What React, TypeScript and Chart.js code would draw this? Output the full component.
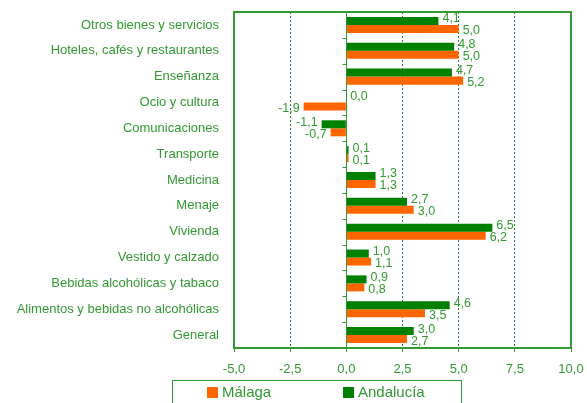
import React, { useEffect, useRef } from "react";
import { Chart, registerables } from "chart.js";
Chart.register(...registerables);

const categories = [
  "Otros bienes y servicios",
  "Hoteles, cafés y restaurantes",
  "Enseñanza",
  "Ocio y cultura",
  "Comunicaciones",
  "Transporte",
  "Medicina",
  "Menaje",
  "Vivienda",
  "Vestido y calzado",
  "Bebidas alcohólicas y tabaco",
  "Alimentos y bebidas no alcohólicas",
  "General",
];
const andalucia = [4.1, 4.8, 4.7, 0.0, -1.1, 0.1, 1.3, 2.7, 6.5, 1.0, 0.9, 4.6, 3.0];
const malaga = [5.0, 5.0, 5.2, -1.9, -0.7, 0.1, 1.3, 3.0, 6.2, 1.1, 0.8, 3.5, 2.7];
const xTicks = [-5, -2.5, 0, 2.5, 5, 7.5, 10];
const seriesNames = ["Andalucía", "Málaga"];
const seriesColors = ["#008000", "#ff6600"];

const TEXT = "#339933";
const LINE = "#339933";
const GRID = "#2a7a4a";
const FONT = "'Liberation Sans', Arial, sans-serif";

const fmt = (v: number) => v.toFixed(1).replace(".", ",");

const framePlugin = {
  id: "frame",
  beforeDatasetsDraw(chart: any) {
    const { ctx, chartArea, scales } = chart;
    const x0 = Math.round(scales.x.getPixelForValue(0)) + 0.5;
    ctx.save();
    ctx.strokeStyle = LINE;
    ctx.lineWidth = 1;
    ctx.beginPath();
    ctx.moveTo(x0, chartArea.top);
    ctx.lineTo(x0, chartArea.bottom);
    for (let i = 0; i < categories.length - 1; i++) {
      const yb = Math.round((scales.y.getPixelForValue(i) + scales.y.getPixelForValue(i + 1)) / 2) + 0.5;
      ctx.moveTo(x0 - 4, yb);
      ctx.lineTo(x0, yb);
    }
    ctx.stroke();
    ctx.restore();
  },
  afterDraw(chart: any) {
    const { ctx, chartArea } = chart;
    ctx.save();
    ctx.strokeStyle = LINE;
    ctx.lineWidth = 2;
    ctx.beginPath();
    ctx.moveTo(chartArea.left, chartArea.top);
    ctx.lineTo(chartArea.right, chartArea.top);
    ctx.lineTo(chartArea.right, chartArea.bottom);
    ctx.stroke();
    ctx.restore();
  },
};

const labelPlugin = {
  id: "barLabels",
  afterDatasetsDraw(chart: any) {
    const { ctx } = chart;
    ctx.save();
    ctx.font = `12.5px ${FONT}`;
    ctx.fillStyle = TEXT;
    ctx.textBaseline = "middle";
    chart.data.datasets.forEach((ds: any, di: number) => {
      const meta = chart.getDatasetMeta(di);
      meta.data.forEach((el: any, i: number) => {
        const v = ds.data[i];
        const dy = di === 0 ? -2 : 2;
        if (v < 0) {
          ctx.textAlign = "right";
          ctx.fillText(fmt(v), el.x - 4, el.y + dy);
        } else {
          ctx.textAlign = "left";
          ctx.fillText(fmt(v), el.x + 4, el.y + dy);
        }
      });
    });
    ctx.restore();
  },
};

const legendPlugin = {
  id: "boxLegend",
  afterDraw(chart: any) {
    const { ctx } = chart;
    ctx.save();
    ctx.strokeStyle = LINE;
    ctx.lineWidth = 1;
    ctx.strokeRect(172.5, 380.5, 289, 40);
    ctx.font = `15px ${FONT}`;
    ctx.textBaseline = "middle";
    ctx.textAlign = "left";
    const order = [1, 0];
    const xs = [207, 343];
    order.forEach((di, k) => {
      const ds = chart.data.datasets[di];
      ctx.fillStyle = ds.backgroundColor;
      ctx.fillRect(xs[k], 387, 11, 11);
      ctx.fillStyle = TEXT;
      ctx.fillText(ds.label, xs[k] + 15, 393);
    });
    ctx.restore();
  },
};

export default function App() {
  const ref = useRef<HTMLCanvasElement>(null);
  useEffect(() => {
    if (!ref.current) return;
    const chart = new Chart(ref.current, {
      type: "bar",
      data: {
        labels: categories,
        datasets: [
          { label: seriesNames[0], data: andalucia, backgroundColor: seriesColors[0] },
          { label: seriesNames[1], data: malaga, backgroundColor: seriesColors[1] },
        ],
      },
      options: {
        indexAxis: "y",
        animation: false,
        responsive: false,
        layout: { padding: { top: 12, right: 16, left: 0, bottom: 0 } },
        datasets: { bar: { categoryPercentage: 0.62, barPercentage: 1 } },
        plugins: { legend: { display: false }, tooltip: { enabled: false } },
        scales: {
          x: {
            type: "linear",
            min: -5,
            max: 10,
            afterBuildTicks: (s: any) => {
              s.ticks = xTicks.map((v) => ({ value: v }));
            },
            afterFit: (s: any) => {
              s.height = 55;
              s.paddingLeft = 0;
              s.paddingRight = 0;
              s.paddingTop = 0;
              s.paddingBottom = 0;
            },
            ticks: {
              color: TEXT,
              font: { family: FONT, size: 13 },
              padding: 10,
              callback: (v: any) => fmt(Number(v)),
            },
            grid: {
              color: (c: any) => {
                const v = c.tick ? c.tick.value : 0;
                return v === -5 || v === 0 || v === 10 ? "rgba(0,0,0,0)" : GRID;
              },
              drawTicks: true,
              tickLength: 4,
              tickColor: LINE,
              tickBorderDash: [],
            },
            border: { display: true, color: LINE, width: 2, dash: [2, 2] },
          },
          y: {
            type: "category",
            afterFit: (s: any) => {
              s.width = 234;
              s.paddingLeft = 0;
              s.paddingRight = 0;
              s.paddingTop = 0;
              s.paddingBottom = 0;
            },
            ticks: {
              color: TEXT,
              font: { family: FONT, size: 13 },
              padding: 15,
            },
            grid: { display: false, drawTicks: false },
            border: { display: true, color: LINE, width: 2 },
          },
        },
      },
      plugins: [framePlugin, labelPlugin, legendPlugin],
    } as any);
    return () => chart.destroy();
  }, []);
  return (
    <div style={{ position: "absolute", left: 0, top: 0, width: 587, height: 403, background: "#fff" }}>
      <canvas ref={ref} width={587} height={403} />
    </div>
  );
}
